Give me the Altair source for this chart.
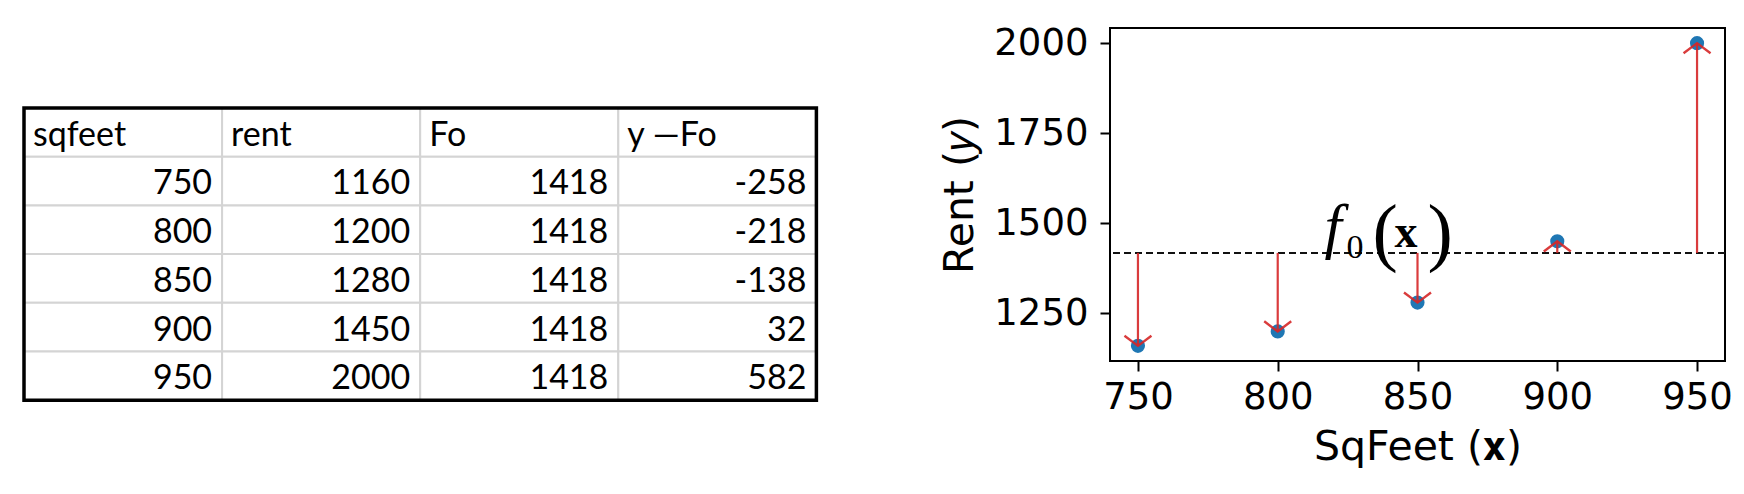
import altair as alt
import pandas as pd

# ---------------- data ----------------
headers = ["sqfeet", "rent", "Fo", "y —Fo"]
sqfeet = [750, 800, 850, 900, 950]
rent = [1160, 1200, 1280, 1450, 2000]
fo = [1418, 1418, 1418, 1418, 1418]
resid = [-258, -218, -138, 32, 582]

F0 = 1418
LABEL_X = 816
x_ticks = [750, 800, 850, 900, 950]
y_ticks = [1250, 1500, 1750, 2000]

RED = "#d62728"
BLUE = "#1f77b4"

# ---------------- table panel ----------------
columns = [sqfeet, rent, fo, resid]
ncol = len(headers)
nrow = len(sqfeet) + 1
cells = []
for c in range(ncol):
    cells.append(dict(c0=c, c1=c + 1, r0=0, r1=1, text=headers[c], kind="h"))
    for r in range(len(sqfeet)):
        cells.append(dict(c0=c, c1=c + 1, r0=r + 1, r1=r + 2,
                          text=str(columns[c][r]), kind="d"))
cells_df = pd.DataFrame(cells)
frame_df = pd.DataFrame([dict(c0=0, c1=ncol, r0=0, r1=nrow)])

COL_PX, ROW_PX = 198.1, 48.7
TW, TH = 825, 390
LEFT_OFF, TOP_OFF = 16, 80
xs_t = alt.Scale(domain=[-LEFT_OFF / COL_PX, (TW - LEFT_OFF) / COL_PX], nice=False, zero=False)
ys_t = alt.Scale(domain=[-TOP_OFF / ROW_PX, (TH - TOP_OFF) / ROW_PX], nice=False, zero=False, reverse=True)

base_t = alt.Chart(cells_df)
grid = base_t.mark_rect(fill="white", stroke="#d4d4d4", strokeWidth=2).encode(
    x=alt.X("c0:Q", scale=xs_t, axis=None), x2="c1:Q",
    y=alt.Y("r0:Q", scale=ys_t, axis=None), y2="r1:Q")
border = alt.Chart(frame_df).mark_rect(fillOpacity=0, stroke="black", strokeWidth=3.5).encode(
    x=alt.X("c0:Q", scale=xs_t, axis=None), x2="c1:Q",
    y=alt.Y("r0:Q", scale=ys_t, axis=None), y2="r1:Q")
head_txt = base_t.transform_filter(alt.datum.kind == "h").mark_text(
    align="left", baseline="alphabetic", dx=9, dy=-11, font="Lato", fontSize=34, color="black").encode(
    x=alt.X("c0:Q", scale=xs_t, axis=None), y=alt.Y("r1:Q", scale=ys_t, axis=None), text="text:N")
data_txt = base_t.transform_filter(alt.datum.kind == "d").mark_text(
    align="right", baseline="alphabetic", dx=-10, dy=-11, font="Lato", fontSize=34, color="black").encode(
    x=alt.X("c1:Q", scale=xs_t, axis=None), y=alt.Y("r1:Q", scale=ys_t, axis=None), text="text:N")

table = alt.layer(grid, border, head_txt, data_txt).properties(width=TW, height=TH)

# ---------------- scatter panel ----------------
pts = pd.DataFrame({"sqfeet": sqfeet, "rent": rent, "fo": fo})
pts["angle"] = [0 if r < f else 180 for r, f in zip(rent, fo)]

xs = alt.Scale(domain=[740, 960], nice=False, zero=False)
ys = alt.Scale(domain=[1118, 2042], nice=False, zero=False)
xax = alt.Axis(values=x_ticks, format="d", title="SqFeet (𝐱)", grid=False)
yax = alt.Axis(values=y_ticks, format="d", title="Rent (𝑦)", grid=False)

base = alt.Chart(pts)
points = base.mark_circle(size=200, color=BLUE, opacity=1).encode(
    x=alt.X("sqfeet:Q", scale=xs, axis=xax), y=alt.Y("rent:Q", scale=ys, axis=yax))
rules = base.mark_rule(color=RED, strokeWidth=2.2, opacity=0.9).encode(
    x="sqfeet:Q", y="fo:Q", y2="rent:Q")
heads = base.mark_point(shape="M-1,-0.75L0,0L1,-0.75", filled=False, size=729,
                        strokeWidth=2.4, color=RED, opacity=0.9).encode(
    x="sqfeet:Q", y="rent:Q", angle=alt.Angle("angle:Q", scale=None))
dash = base.mark_rule(strokeDash=[7, 4], strokeWidth=2, color="#111").encode(y=alt.datum(F0))

ann = pd.DataFrame({"x": [LABEL_X], "y": [F0]})
parts = [("f", "italic", "normal", 62, 2, -6),
         ("0", "normal", "normal", 34, 24, 5),
         ("(", "normal", "normal", 76, 50, 4),
         ("x", "normal", "bold", 46, 72, -6),
         (")", "normal", "normal", 76, 105, 4)]
ann_layers = []
for txt, style, weight, fs, dx, dy in parts:
    ann_layers.append(alt.Chart(ann).mark_text(
        text=txt, align="left", baseline="alphabetic", font="Liberation Serif",
        fontStyle=style, fontWeight=weight, fontSize=fs, dx=dx, dy=dy, color="black").encode(
        x="x:Q", y="y:Q"))

plot = alt.layer(points, dash, rules, heads, *ann_layers).properties(
    width=615, height=333, view=alt.ViewBackground(stroke="black", strokeWidth=2))

chart = alt.hconcat(table, plot, spacing=105).properties(
    padding={"left": 0, "top": 15, "right": 0, "bottom": 0}, background="white"
).configure_view(stroke=None).configure_axis(
    labelFont="DejaVu Sans", labelFontSize=37, labelColor="black",
    titleFont="DejaVu Sans", titleFontSize=41, titleFontWeight="normal", titleColor="black",
    tickColor="black", tickWidth=2, tickSize=10, domain=False,
).configure_axisX(labelPadding=8, titlePadding=12).configure_axisY(labelPadding=12, titlePadding=12)

chart.save("out.html", embed_options={"renderer": "svg", "actions": False})
